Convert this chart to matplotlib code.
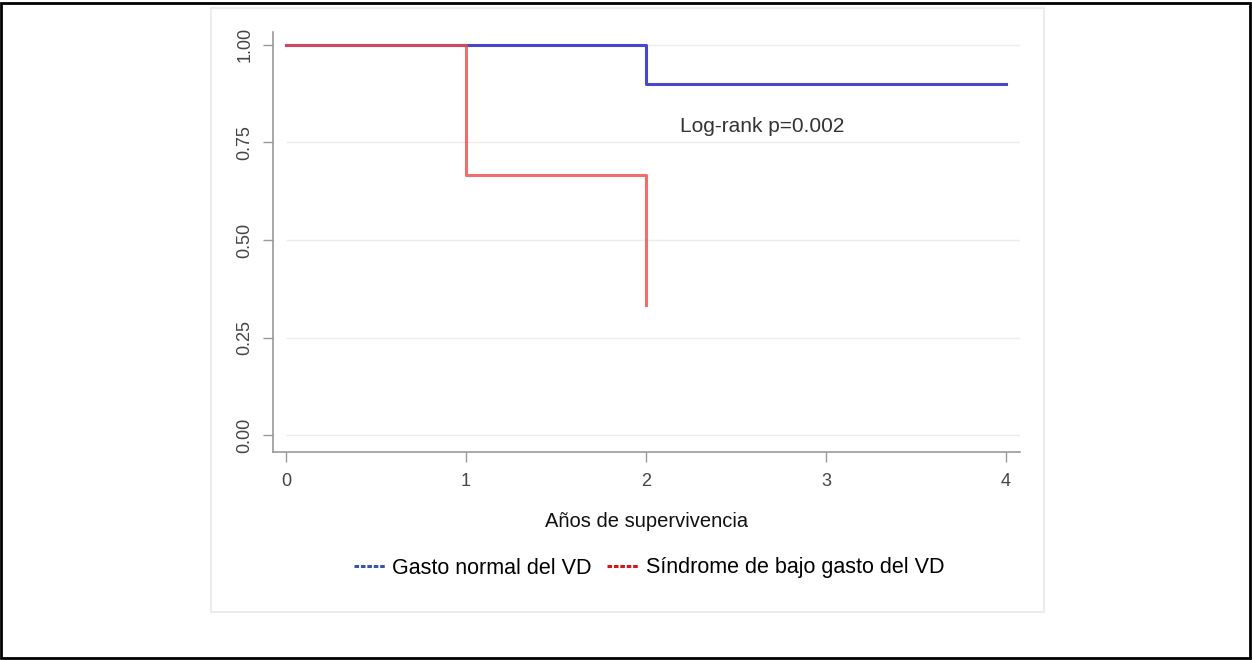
import matplotlib.pyplot as plt
from matplotlib.lines import Line2D
from matplotlib.patches import Rectangle

# Kaplan-Meier step data
t_normal = [0, 1, 2, 4]
s_normal = [1.00, 1.00, 0.90, 0.90]
t_bajo = [0, 1, 2, 2]
s_bajo = [1.00, 0.667, 0.333, 0.333]

y_ticks = [0.00, 0.25, 0.50, 0.75, 1.00]
y_labels = ['0.00', '0.25', '0.50', '0.75', '1.00']
x_ticks = [0, 1, 2, 3, 4]

labels = ['Gasto normal del VD', 'Síndrome de bajo gasto del VD']
colors_line = ['#4848cc', '#ee4a4a']
colors_leg = ['#3a55a8', '#d01818']

plt.rcParams['font.family'] = ['Liberation Sans', 'DejaVu Sans']

W, H = 1252, 660
fig = plt.figure(figsize=(W / 100, H / 100), dpi=100)

# outer border and inner panel
fig.patches.append(Rectangle((1 / W, 2 / H), (W - 3) / W, (H - 5) / H,
                             transform=fig.transFigure, fill=False,
                             edgecolor='black', linewidth=2, zorder=-2))
fig.patches.append(Rectangle((211 / W, 1 - 612 / H), (1044 - 211) / W, (612 - 8) / H,
                             transform=fig.transFigure, facecolor='white',
                             edgecolor='#ececec', linewidth=1.5, zorder=-1))

left, right, top, bottom = 273, 1020, 32, 452
ax = fig.add_axes([left / W, 1 - bottom / H, (right - left) / W, (bottom - top) / H])
ax.set_facecolor('none')
ax.set_zorder(1)

ax.set_xlim(-0.072, 4.078)
ax.set_ylim(-0.043, 1.033)

ax.hlines(y_ticks, 0, 4.078, colors='#ececec', linewidth=1, zorder=0)

ax.step(t_normal, s_normal, where='post', color=colors_line[0], linewidth=2.2, zorder=2)
ax.step(t_bajo, s_bajo, where='post', color=colors_line[1], linewidth=2.2, alpha=0.8, zorder=3)

ax.text(2.19, 0.792, 'Log-rank p=0.002', fontsize=15, color='#333333', va='center')

ax.set_yticks(y_ticks)
ax.set_yticklabels(y_labels, rotation=90, va='center')
ax.set_xticks(x_ticks)
ax.tick_params(colors='#999999', labelcolor='#444444', labelsize=13, length=7, width=1)
ax.tick_params(axis='y', pad=7)
ax.tick_params(axis='x', pad=8)
for s in ['top', 'right']:
    ax.spines[s].set_visible(False)
for s in ['left', 'bottom']:
    ax.spines[s].set_color('#999999')
    ax.spines[s].set_linewidth(1.2)

ax.set_xlabel('Años de supervivencia', fontsize=14.5, color='#111111', labelpad=16)

handles = [Line2D([], [], color=c, linestyle=(0, (1.5, 0.6)), linewidth=2.2) for c in colors_leg]
fig.legend(handles, labels, loc='center', bbox_to_anchor=(649 / W, 1 - 568 / H),
           ncol=2, frameon=False, fontsize=15.5, handlelength=1.5, handletextpad=0.3,
           columnspacing=0.7)

fig.savefig('out.png', dpi=100)
